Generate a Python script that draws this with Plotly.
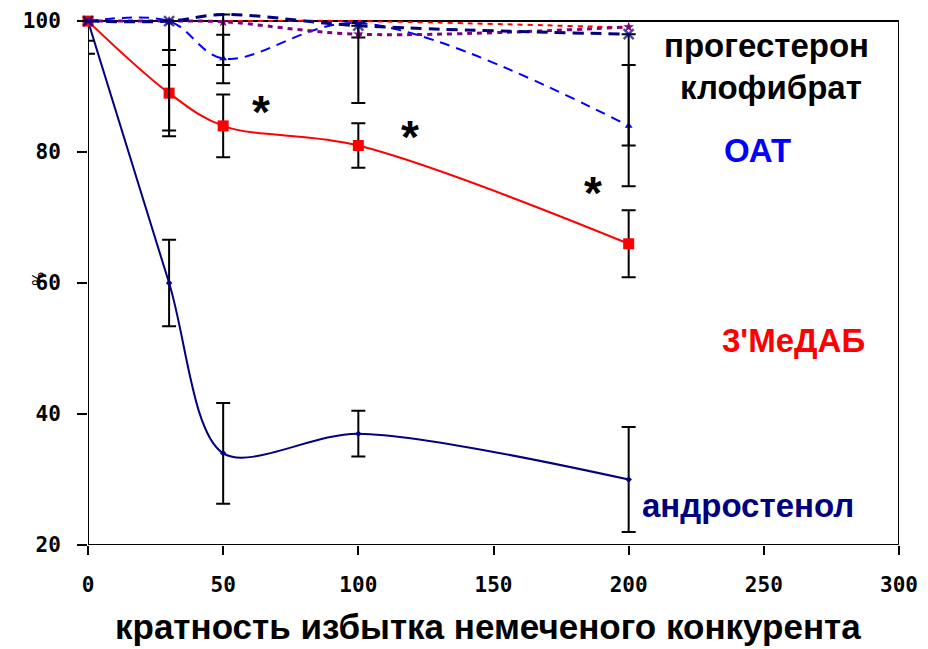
import plotly.graph_objects as go

# ---- data ----
x = [0, 30, 50, 100, 200]

androstenol = [100, 60, 34, 37, 30]
androstenol_err_plus = [0, 6.6, 7.7, 3.5, 8]
androstenol_err_minus = [5, 6.6, 7.7, 3.5, 8]

medab = [100, 89, 84, 81, 66]
medab_err_plus = [0, 6.6, 4.8, 3.4, 5.1]
medab_err_minus = [3, 6.6, 4.8, 3.4, 5.1]

oat = [100, 100, 94.3, 99.7, 84]
oat_err_plus = [0, 0, 3.6, 0, 9.3]
oat_err_minus = [0, 6.7, 3.8, 2.2, 9.2]

progesterone = [100, 100, 101, 99.3, 98]
progesterone_err_minus = [0, 16.7, 7.7, 11.8, 17]

clofibrate = [100, 100, 99.9, 98, 99.1]
other = [100, 100, 100, 100, 99]

xticks = [0, 50, 100, 150, 200, 250, 300]
yticks = [20, 40, 60, 80, 100]

fig = go.Figure()

def err(plus, minus):
    return dict(type="data", symmetric=False, array=plus, arrayminus=minus,
                color="black", thickness=2, width=7)

fig.add_trace(go.Scatter(
    x=x, y=androstenol, mode="lines+markers",
    line=dict(color="#000080", width=2, shape="spline", smoothing=0.85),
    marker=dict(symbol="diamond", size=5, color="#000080"),
    error_y=err(androstenol_err_plus, androstenol_err_minus), cliponaxis=False))
fig.add_trace(go.Scatter(
    x=x, y=medab, mode="lines+markers", line=dict(color="#FF0000", width=2, shape="spline"),
    marker=dict(symbol="square", size=11, color="#FF0000"),
    error_y=err(medab_err_plus, medab_err_minus), cliponaxis=False))
fig.add_trace(go.Scatter(
    x=x, y=oat, mode="lines+markers", line=dict(color="#0000FF", width=2, dash="10px,7px", shape="spline"),
    marker=dict(symbol="triangle-up", size=7, color="#0000FF"),
    error_y=err(oat_err_plus, oat_err_minus), cliponaxis=False))
fig.add_trace(go.Scatter(
    x=x, y=other, mode="lines", line=dict(color="#FF0000", width=2, dash="5px,5px", shape="spline"),
    cliponaxis=False))
fig.add_trace(go.Scatter(
    x=x, y=clofibrate, mode="lines+markers", line=dict(color="#800080", width=3, dash="5px,5px", shape="spline"),
    marker=dict(symbol="star", size=8, color="#800080"), cliponaxis=False))
fig.add_trace(go.Scatter(
    x=x, y=progesterone, mode="lines+markers", line=dict(color="#000080", width=3, dash="11px,7px", shape="spline"),
    marker=dict(symbol="x-thin-open", size=[10, 10, 0, 10, 10], line=dict(color="#000080", width=2.5)),
    error_y=err([0] * 5, progesterone_err_minus), cliponaxis=False))

fig.add_shape(type="rect", xref="x", yref="y", x0=0, x1=300, y0=20, y1=100,
              line=dict(color="black", width=2), layer="below")

lbl_font = "Liberation Sans, Arial, sans-serif"
labels = [
    ("прогестерон", 251, 96.3, "black"),
    ("клофибрат", 252.6, 89.8, "black"),
    ("ОАТ", 247.5, 80.3, "#0000FF"),
    ("3'МеДАБ", 260.8, 51.3, "#FF0000"),
    ("андростенол", 244.1, 26.1, "#000080"),
]
for t, lx, ly, c in labels:
    fig.add_annotation(x=lx, y=ly, xref="x", yref="y", text=t, showarrow=False,
                       font=dict(family=lbl_font, size=33, color=c, weight="bold"))

stars = [(64.0, 86.1), (119.0, 82.3), (186.8, 73.8)]
for sx, sy in stars:
    fig.add_annotation(x=sx, y=sy, xref="x", yref="y", text="*", showarrow=False,
                       font=dict(family=lbl_font, size=46, color="black", weight="bold"))

fig.add_annotation(x=-0.074, y=60.6, xref="paper", yref="y", text="%", textangle=-90,
                   showarrow=False, font=dict(family="DejaVu Sans", size=15, color="black"))

fig.add_annotation(x=(488 - 88) / 811 * 300, y=-0.152, xref="x", yref="paper",
                   text="кратность избытка немеченого конкурента",
                   showarrow=False, yanchor="middle",
                   font=dict(family="Liberation Sans, Arial", size=35,
                             color="black", weight="bold"))

tick_font = dict(family="DejaVu Sans Mono", size=21, color="black", weight="bold")
fig.update_xaxes(range=[0, 300], tickvals=xticks, ticks="outside", ticklen=9, tickwidth=2,
                 tickcolor="black", showgrid=False, zeroline=False, showline=False,
                 tickfont=tick_font, ticklabelstandoff=12)
fig.update_yaxes(range=[20, 102], tickvals=yticks, ticks="outside", ticklen=10, tickwidth=2,
                 tickcolor="black", showgrid=False, zeroline=False, showline=False,
                 tickfont=tick_font, ticklabelstandoff=12)

fig.update_layout(width=928, height=649, margin=dict(l=88, r=29, t=8, b=104),
                  plot_bgcolor="white", paper_bgcolor="white", showlegend=False)

fig.write_html("out.html")
